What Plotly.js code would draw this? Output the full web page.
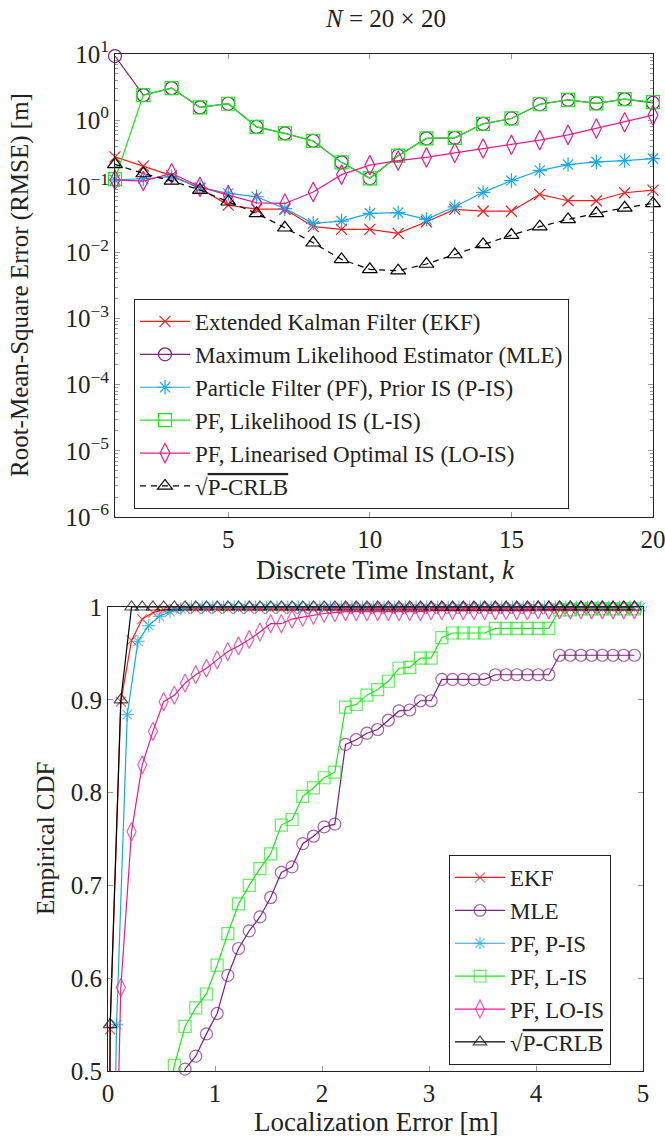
<!DOCTYPE html>
<html>
<head>
<meta charset="utf-8">
<script src="https://cdn.plot.ly/plotly-3.0.1.min.js"></script>
<style>html,body{margin:0;padding:0;background:#fff;}#chart{width:665px;height:1140px;}</style>
</head>
<body>
<div id="chart"></div>
<script>
// ---------- Top panel: RMSE vs time instant ----------
const timeK = [1,2,3,4,5,6,7,8,9,10,11,12,13,14,15,16,17,18,19,20];
const rmseEKF  = [0.279,0.202,0.145,0.093,0.052,0.045,0.045,0.0245,0.0223,0.0223,0.0194,0.0291,0.0447,0.042,0.042,0.0754,0.0605,0.0605,0.0798,0.0877];
const rmseMLE  = [9.3,2.39,3.05,1.56,1.77,0.79,0.63,0.485,0.23,0.132,0.29,0.53,0.54,0.88,1.06,1.74,2.03,1.79,2.08,1.82];
const rmsePIS  = [0.125,0.13,0.14,0.096,0.078,0.0695,0.046,0.0275,0.0298,0.039,0.040,0.0316,0.049,0.081,0.122,0.173,0.213,0.234,0.245,0.262];
const rmseLIS  = [0.128,2.39,3.05,1.56,1.77,0.79,0.63,0.485,0.23,0.132,0.29,0.53,0.54,0.88,1.06,1.74,2.03,1.79,2.08,1.87];
const rmseLOIS = [0.125,0.12,0.157,0.098,0.0736,0.0563,0.055,0.082,0.15,0.209,0.245,0.273,0.32,0.373,0.425,0.499,0.60,0.748,0.93,1.19];
const rmseCRLB = [0.215,0.156,0.121,0.0877,0.0584,0.039,0.0236,0.014,0.00785,0.00555,0.0053,0.00668,0.0093,0.0132,0.0183,0.0245,0.0316,0.039,0.0473,0.055];
const rmseTickVals = [1e-6,1e-5,1e-4,1e-3,1e-2,1e-1,1e0,1e1];
const rmseTickText = ['10<sup>−6</sup>','10<sup>−5</sup>','10<sup>−4</sup>','10<sup>−3</sup>','10<sup>−2</sup>','10<sup>−1</sup>','10<sup>0</sup>','10<sup>1</sup>'];
const timeTickVals = [5,10,15,20];

// ---------- Bottom panel: empirical CDF of localization error ----------
const errGridA = [0.02,0.12,0.22,0.32,0.42,0.52,0.62,0.72,0.82,0.92,1.02,1.12,1.22,1.32,1.42,1.52,1.62,1.72,1.82,1.92,2.02,2.12,2.22,2.32,2.42,2.52,2.62,2.72,2.82,2.92,3.02,3.12,3.22,3.32,3.42,3.52,3.62,3.72,3.82,3.92,4.02,4.12,4.22,4.32,4.42,4.52,4.62,4.72,4.82,4.92];
const errGridB = [0.08,0.18,0.28,0.38,0.48,0.58,0.68,0.78,0.88,0.98,1.08,1.18,1.28,1.38,1.48,1.58,1.68,1.78,1.88,1.98,2.08,2.18,2.28,2.38,2.48,2.58,2.68,2.78,2.88,2.98,3.08,3.18,3.28,3.38,3.48,3.58,3.68,3.78,3.88,3.98,4.08,4.18,4.28,4.38,4.48,4.58,4.68,4.78,4.88,4.98];
const cdfEKF  = [0.545,0.898,0.964,0.987,0.994,0.997,0.998,0.998,0.998,0.998,0.998,0.998,0.998,0.998,0.998,0.998,0.998,0.998,0.998,0.998,0.998,0.998,0.998,0.998,0.998,0.998,0.998,0.998,0.998,0.998,0.998,0.998,0.998,0.998,0.998,0.998,0.998,0.998,0.998,0.998,0.998,0.998,0.998,0.998,0.998,0.998,0.998,0.998,0.998,0.998];
const cdfMLE  = [null,null,null,null,null,null,null,0.502,0.516,0.540,0.562,0.603,0.632,0.651,0.666,0.687,0.714,0.720,0.745,0.753,0.763,0.766,0.852,0.857,0.864,0.868,0.878,0.888,0.889,0.899,0.899,0.922,0.922,0.922,0.922,0.922,0.927,0.927,0.927,0.927,0.927,0.927,0.948,0.948,0.948,0.948,0.948,0.948,0.948,0.948];
const cdfPIS  = [0.55,0.884,0.963,0.980,0.990,0.995,0.998,1,1,1,1,1,1,1,1,1,1,1,1,1,1,1,1,1,1,1,1,1,1,1,1,1,1,1,1,1,1,1,1,1,1,1,1,1,1,1,1,1,1,1];
const cdfLIS  = [null,null,null,null,null,null,0.506,0.548,0.568,0.583,0.614,0.648,0.680,0.700,0.718,0.734,0.765,0.771,0.796,0.805,0.816,0.822,0.892,0.895,0.905,0.911,0.920,0.934,0.935,0.945,0.945,0.967,0.972,0.972,0.972,0.972,0.977,0.977,0.977,0.977,0.977,0.977,0.997,0.997,0.998,0.998,0.998,0.998,0.998,0.998];
const cdfLOIS = [null,0.59,0.758,0.830,0.866,0.898,0.905,0.918,0.927,0.934,0.943,0.952,0.958,0.965,0.973,0.982,0.982,0.987,0.989,0.991,0.993,0.994,0.995,0.995,0.995,0.995,0.995,0.995,0.995,0.995,0.996,0.996,0.996,0.996,0.996,0.996,0.996,0.996,0.996,0.996,0.997,0.997,0.997,0.997,0.997,0.997,0.997,0.997,0.997,0.997];
const cdfCRLB = [0.55,0.90,1,1,1,1,1,1,1,1,1,1,1,1,1,1,1,1,1,1,1,1,1,1,1,1,1,1,1,1,1,1,1,1,1,1,1,1,1,1,1,1,1,1,1,1,1,1,1,1];
const cdfOrigin = [0, 0]; // ECDF starts at F(0)=0

const FONT = 'Liberation Serif, Times New Roman, serif';
const C = {ekf:'#ff1a1a', mle:'#7f1f86', pis:'#1aa9ea', lis:'#19ec19', lois:'#eb1a8f', crlb:'#000000'};
const CRLB_LABEL = '√<span style="text-decoration:overline">P-CRLB</span>';

function topTrace(name, y, color, symbol, size, dash){
  return {x: timeK, y: y, name: name, type:'scatter', mode:'lines+markers', xaxis:'x', yaxis:'y',
    line:{color:color, width:1.2, dash: dash||'solid'}, cliponaxis:false,
    marker:{symbol:symbol, size:size, color:color, line:{color:color, width:1.2}}, legend:'legend'};
}
function cdfTrace(name, grid, vals, color, symbol, size){
  const xs = [cdfOrigin[0]], ys = [cdfOrigin[1]];
  grid.forEach((g,i)=>{ if (vals[i] !== null) { xs.push(g); ys.push(vals[i]); } });
  const sizes = xs.map((_,i)=> i===0 ? 0 : size);
  return {x: xs, y: ys, name: name, type:'scatter', mode:'lines+markers', xaxis:'x2', yaxis:'y2',
    line:{color:color, width:1.2}, cliponaxis:false,
    marker:{symbol:symbol, size:sizes, color:color, line:{color:color, width:1.2}}, legend:'legend2'};
}

const traces = [
  topTrace('Extended Kalman Filter (EKF)', rmseEKF, C.ekf, 'x-thin-open', 11),
  topTrace('Maximum Likelihood Estimator (MLE)', rmseMLE, C.mle, 'circle-open', 13),
  topTrace('Particle Filter (PF), Prior IS (P-IS)', rmsePIS, C.pis, 'asterisk-open', 12),
  topTrace('PF, Likelihood IS (L-IS)', rmseLIS, C.lis, 'square-open', 13),
  topTrace('PF, Linearised Optimal IS (LO-IS)', rmseLOIS, C.lois, 'diamond-tall-open', 14),
  topTrace(CRLB_LABEL, rmseCRLB, C.crlb, 'triangle-up-open', 13, '6px,5px'),
  cdfTrace('EKF', errGridA, cdfEKF, C.ekf, 'x-thin-open', 10),
  cdfTrace('MLE', errGridA, cdfMLE, C.mle, 'circle-open', 12),
  cdfTrace('PF, P-IS', errGridB, cdfPIS, C.pis, 'asterisk-open', 11),
  cdfTrace('PF, L-IS', errGridA, cdfLIS, C.lis, 'square-open', 12),
  cdfTrace('PF, LO-IS', errGridA, cdfLOIS, C.lois, 'diamond-tall-open', 13),
  cdfTrace(CRLB_LABEL, errGridA, cdfCRLB, C.crlb, 'triangle-up-open', 12)
];

const minorLog = [];
for (let e=-6; e<1; e++) for (let m=2; m<=9; m++) minorLog.push(m*Math.pow(10,e));

const TICKFONT = {family:FONT, size:25, color:'#222'};
const axisBase = {showline:true, linecolor:'#222', linewidth:1, mirror:'ticks', ticks:'inside', ticklen:5,
  tickcolor:'#999', tickwidth:1, showgrid:false, zeroline:false, automargin:false, tickfont:TICKFONT,
  ticklabeloverflow:'allow'};

const W = 665, H = 1140;
const topY = [1-517/H, 1-54/H];
const layout = {
  width:W, height:H, margin:{l:0,r:0,t:0,b:0}, paper_bgcolor:'#fff', plot_bgcolor:'#fff',
  font:{family:FONT, color:'#222'}, showlegend:true,
  xaxis: Object.assign({}, axisBase, {domain:[115/W, 653/W], anchor:'y', range:[1,20], tickmode:'array', tickvals:timeTickVals}),
  yaxis: Object.assign({}, axisBase, {domain:topY, anchor:'x', type:'log', range:[-6,1],
    tickmode:'array', tickvals:rmseTickVals, ticktext:rmseTickText,
    minor:{tickmode:'array', tickvals:minorLog, ticks:'inside', ticklen:3, tickcolor:'#999', showgrid:false}}),
  yaxis3: Object.assign({}, axisBase, {overlaying:'y', anchor:'x', side:'right', type:'log', range:[-6,1], showline:false,
    mirror:false, showticklabels:false, tickmode:'array', tickvals:rmseTickVals,
    minor:{tickmode:'array', tickvals:minorLog, ticks:'inside', ticklen:3, tickcolor:'#999', showgrid:false}}),
  xaxis2: Object.assign({}, axisBase, {domain:[108/W, 643/W], anchor:'y2', range:[0,5], dtick:1, tick0:0}),
  yaxis2: Object.assign({}, axisBase, {domain:[1-1071/H, 1-607/H], anchor:'x2', range:[0.5,1], dtick:0.1, tick0:0.5}),
  legend:{x:134/W, y:1-299/H, xanchor:'left', yanchor:'top', bgcolor:'#fff', bordercolor:'#222', borderwidth:1,
    font:{family:FONT, size:23, color:'#222'}, tracegroupgap:0, itemwidth:50},
  legend2:{x:449/W, y:1-855/H, xanchor:'left', yanchor:'top', bgcolor:'#fff', bordercolor:'#222', borderwidth:1,
    font:{family:FONT, size:23, color:'#222'}, tracegroupgap:0, itemwidth:50},
  annotations:[
    {text:'<i>N</i> = 20 × 20', x:385/W, y:1-18/H, xref:'paper', yref:'paper', showarrow:false, xanchor:'center', yanchor:'middle', font:{family:FONT, size:25, color:'#222'}},
    {text:'Discrete Time Instant, <i>k</i>', x:385/W, y:1-570/H, xref:'paper', yref:'paper', showarrow:false, xanchor:'center', yanchor:'middle', font:{family:FONT, size:27, color:'#222'}},
    {text:'Root-Mean-Square Error (RMSE) [m]', x:20/W, y:1-285/H, xref:'paper', yref:'paper', showarrow:false, textangle:-90, xanchor:'center', yanchor:'middle', font:{family:FONT, size:25, color:'#222'}},
    {text:'Empirical CDF', x:45/W, y:1-839/H, xref:'paper', yref:'paper', showarrow:false, textangle:-90, xanchor:'center', yanchor:'middle', font:{family:FONT, size:25, color:'#222'}},
    {text:'Localization Error [m]', x:376/W, y:1-1122/H, xref:'paper', yref:'paper', showarrow:false, xanchor:'center', yanchor:'middle', font:{family:FONT, size:27, color:'#222'}}
  ]
};

Plotly.newPlot('chart', traces, layout, {displayModeBar:false, responsive:false});
</script>
</body>
</html>
